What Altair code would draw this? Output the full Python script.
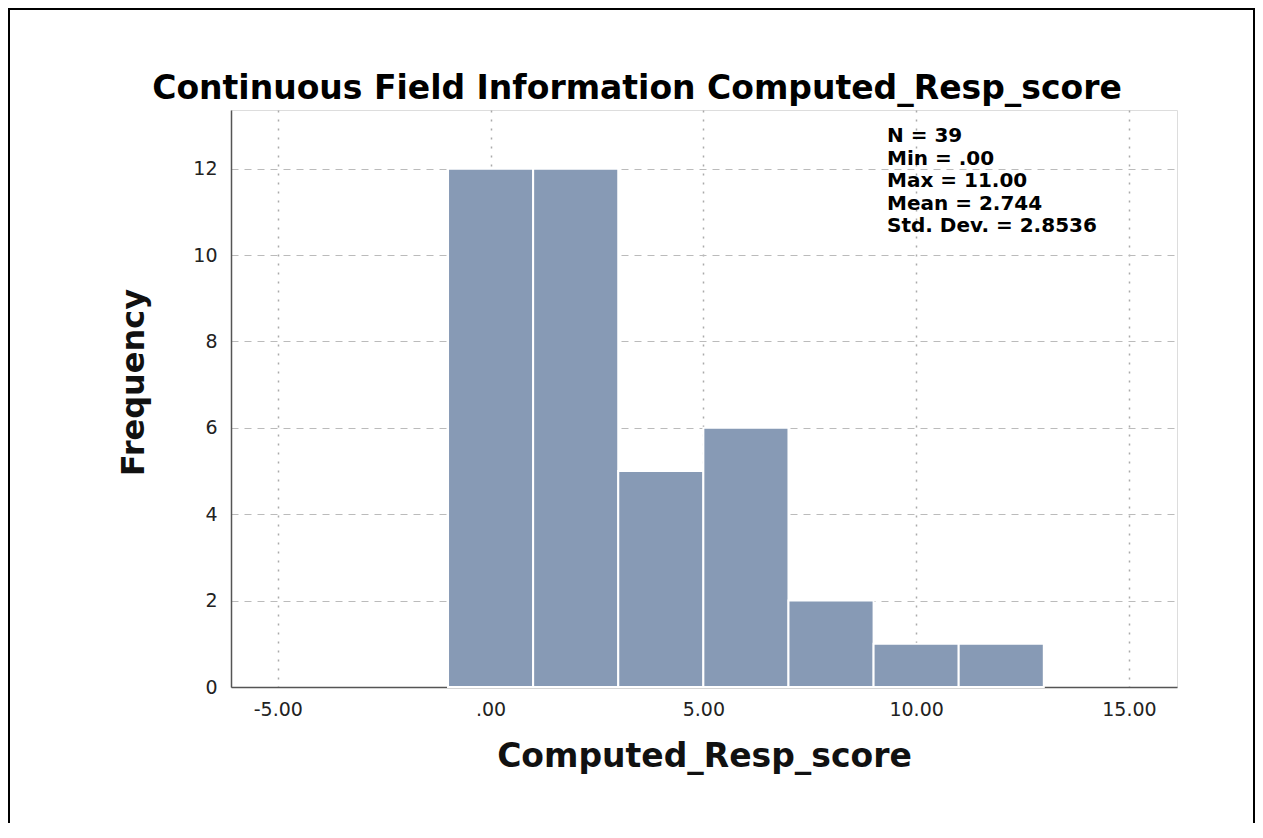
import altair as alt
import pandas as pd

# ---- data ----
bin_start = [-1, 1, 3, 5, 7, 9, 11]
bin_end = [1, 3, 5, 7, 9, 11, 13]
frequency = [12, 12, 5, 6, 2, 1, 1]

x_tick_values = [-5, 0, 5, 10, 15]
x_tick_labels = ["-5.00", ".00", "5.00", "10.00", "15.00"]
y_tick_values = [0, 2, 4, 6, 8, 10, 12]

stats_lines = ["N = 39", "Min = .00", "Max = 11.00", "Mean = 2.744", "Std. Dev. = 2.8536"]

title_text = "Continuous Field Information Computed_Resp_score"
x_title = "Computed_Resp_score"
y_title = "Frequency"

# ---- layout ----
W, H = 946, 577
PAD = {"left": 223, "top": 102, "right": 78, "bottom": 136}
BAR_COLOR = "#879ab5"
FONT = "DejaVu Sans"

df = pd.DataFrame({"start": bin_start, "end": bin_end, "freq": frequency})

label_expr = " : ".join(
    f"datum.value == {v} ? '{l}'" for v, l in zip(x_tick_values, x_tick_labels)
) + " : ''"

bars = alt.Chart(df).mark_rect(
    color=BAR_COLOR, stroke="white", strokeWidth=2
).encode(
    x=alt.X(
        "start:Q",
        scale=alt.Scale(domain=[-6.1, 16.13], nice=False, zero=False),
        axis=alt.Axis(
            values=x_tick_values,
            labelExpr=label_expr,
            title=x_title,
            titleFont=FONT,
            titleFontSize=33,
            titleFontWeight="bold",
            titleColor="#111111",
            titleBaseline="alphabetic",
            titleY=79,
            labelFont=FONT,
            labelFontSize=19,
            labelColor="#222222",
            labelPadding=13,
            ticks=False,
            tickSize=0,
            domainColor="#555555",
            domainWidth=1.5,
            grid=True,
            gridColor="#aaaaaa",
            gridDash=[2, 7],
            gridWidth=1.5,
            labelFlush=False,
        ),
    ),
    x2="end:Q",
    y=alt.Y(
        "freq:Q",
        scale=alt.Scale(domain=[0, 13.36], nice=False),
        axis=alt.Axis(
            values=y_tick_values,
            title=y_title,
            titleFont=FONT,
            titleFontSize=32,
            titleFontWeight="bold",
            titleColor="#111111",
            titleAngle=-90,
            titleAlign="center",
            titleBaseline="alphabetic",
            titleX=-88,
            titleY=272,
            labelFont=FONT,
            labelFontSize=19,
            labelColor="#222222",
            labelPadding=14,
            ticks=False,
            tickSize=0,
            domainColor="#555555",
            domainWidth=1.5,
            grid=True,
            gridColor="#bbbbbb",
            gridDash=[7, 6],
            gridWidth=1.2,
            labelFlush=False,
        ),
    ),
    y2=alt.datum(0),
)

one = pd.DataFrame({"k": [0]})

stats = alt.Chart(one).mark_text(
    align="left",
    baseline="alphabetic",
    font=FONT,
    fontSize=20,
    fontWeight="bold",
    lineHeight=22.5,
    color="black",
).encode(
    x=alt.value(887 - 231),
    y=alt.value(142 - 110),
    text=alt.value(stats_lines),
)

title = alt.Chart(one).mark_text(
    align="center",
    baseline="alphabetic",
    font=FONT,
    fontSize=33,
    fontWeight="bold",
    color="black",
).encode(
    x=alt.value(637 - 231),
    y=alt.value(99 - 110),
    text=alt.value(title_text),
)

frame = alt.Chart(one).mark_rect(
    fillOpacity=0, stroke="black", strokeWidth=2
).encode(
    x=alt.value(-PAD["left"] + 1),
    x2=alt.value(W + PAD["right"] - 1),
    y=alt.value(-PAD["top"] + 1),
    y2=alt.value(H + PAD["bottom"] + 20),
)

chart = alt.layer(frame, bars, stats, title).properties(
    width=W,
    height=H,
    padding=PAD,
    autosize=alt.AutoSizeParams(type="none"),
).configure_view(stroke=None).configure(background="white")

chart.save("out.html", embed_options={"renderer": "svg", "actions": False})
